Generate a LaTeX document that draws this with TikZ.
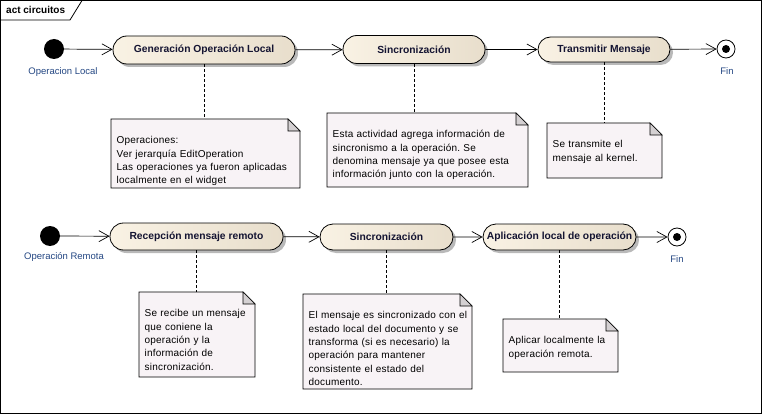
\documentclass[tikz,border=0pt]{standalone}
\usepackage{fontspec}
\setmainfont{Liberation Sans}
\usetikzlibrary{arrows.meta,shapes.misc,shadows,backgrounds}
\definecolor{actL}{RGB}{249,242,228}
\definecolor{actR}{RGB}{232,222,204}
\definecolor{acttext}{RGB}{20,20,50}
\definecolor{notefillc}{RGB}{248,243,246}
\definecolor{foldc}{RGB}{212,208,210}
\definecolor{shadowc}{RGB}{185,185,185}
\definecolor{labelc}{RGB}{35,70,130}
\newcommand{\notebg}[3]{%
  \begin{pgfonlayer}{background}
    \filldraw[fill=notefillc,line width=0.8pt] (#1.north west) -- ++(#2-12,0) -- ++(12,12) -- ++(0,#3-12) -- ++(-#2,0) -- cycle;
    \filldraw[fill=foldc,line width=0.6pt] (#1.north west) ++(#2-12,0) -- ++(0,12) -- ++(12,0) -- cycle;
  \end{pgfonlayer}}
\newcommand{\fl}{\rule{0pt}{10pt}}
\begin{document}
\frenchspacing
\begin{tikzpicture}[x=1pt,y=-1pt,
  action/.style={rounded rectangle, draw, line width=0.8pt, left color=actL, right color=actR,
    font=\bfseries\fontsize{10.3}{12}\selectfont, text=acttext, inner sep=0pt,
    drop shadow={shadow xshift=3pt,shadow yshift=-3pt,fill=shadowc,opacity=1}},
  flow/.style={line width=0.7pt, -{Straight Barb[length=10pt,width=11pt]}},
  anchorline/.style={line width=0.7pt, dash pattern=on 3pt off 2pt},
  initnode/.style={circle, fill=black, minimum size=20pt, inner sep=0pt},
  finalnode/.style={circle, draw, line width=0.8pt, fill=white, minimum size=18pt, inner sep=0pt,
    path picture={\fill[black] (path picture bounding box.center) circle (4pt);}},
  lbl/.style={font=\fontsize{9.5}{11}\selectfont, text=labelc, inner sep=0pt},
  notebox/.style={anchor=north west, inner xsep=5.5pt, inner ysep=14.5pt, align=left,
    font=\fontsize{10}{13.4}\selectfont\addfontfeature{LetterSpace=2}}
]
\useasboundingbox (0,0) rectangle (762,414);
\draw[line width=0.8pt] (0.5,0.5) rectangle (761,413.5);
\draw[line width=0.8pt] (0.5,20) -- (70,20) -- (82,0.5);
\node[anchor=west, font=\bfseries\fontsize{10}{12}\selectfont, inner sep=0pt] (title) at (6,10) {act circuitos};

% Row 1
\node[initnode] (I1) at (54,49) {};
\node[lbl] (L1) at (63,72) {Operacion Local};
\node[action, minimum width=182pt, minimum height=28pt] (A1) at (204,50) {Generación Operación Local};
\node[action, minimum width=142pt, minimum height=28pt] (A2) at (414,49.5) {Sincronización};
\node[action, minimum width=132pt, minimum height=25pt] (A3) at (604,49.5) {Transmitir Mensaje};
\node[finalnode] (F1) at (726,49) {};
\node[lbl] (LF1) at (727,71) {Fin};

\draw[flow] (I1) -- (A1);
\draw[flow] (A1) -- (A2);
\draw[flow] (A2) -- (A3);
\draw[flow] (A3) -- (F1);

\node[notebox, text width=185pt] (N1) at (111,119) {\fl Operaciones:\\Ver jerarquía EditOperation\\Las operaciones ya fueron aplicadas\\localmente en el widget};
\node[notebox, text width=195pt] (N2) at (327,113) {\fl Esta actividad agrega información de\\sincronismo a la operación. Se\\denomina mensaje ya que posee esta\\información junto con la operación.};
\node[notebox, text width=110pt] (N3) at (547,123) {\fl Se transmite el\\mensaje al kernel.};
\notebg{N1}{189}{69}\notebg{N2}{201}{74}\notebg{N3}{115}{55}
\draw[anchorline] (A1.south) -- (A1.south |- N1.north);
\draw[anchorline] (A2.south) -- (A2.south |- N2.north);
\draw[anchorline] (A3.south) -- (A3.south |- N3.north);

% Row 2
\node[initnode] (I2) at (50,236) {};
\node[lbl] (L2) at (64,257) {Operación Remota};
\node[action, minimum width=173pt, minimum height=27pt] (B1) at (196.5,236.5) {Recepción mensaje remoto};
\node[action, minimum width=133pt, minimum height=26pt] (B2) at (386.5,237) {Sincronización};
\node[action, minimum width=153pt, minimum height=26pt] (B3) at (559.5,237) {Aplicación local de operación};
\node[finalnode] (F2) at (677,237) {};
\node[lbl] (LF2) at (677,259) {Fin};

\draw[flow] (I2) -- (B1);
\draw[flow] (B1) -- (B2);
\draw[flow] (B2) -- (B3);
\draw[flow] (B3) -- (F2);

\node[notebox, text width=115pt] (N4) at (139,292) {\fl Se recibe un mensaje\\que coniene la\\operación y la\\información de\\sincronización.};
\node[notebox, text width=168pt] (N5) at (303,294) {\fl El mensaje es sincronizado con el\\estado local del documento y se\\transforma (si es necesario) la\\operación para mantener\\consistente el estado del\\documento.};
\node[notebox, text width=112pt] (N6) at (503,319) {\fl Aplicar localmente la\\operación remota.};
\notebg{N4}{116}{85}\notebg{N5}{169}{95}\notebg{N6}{115}{53}
\draw[anchorline] (B1.south) -- (B1.south |- N4.north);
\draw[anchorline] (B2.south) -- (B2.south |- N5.north);
\draw[anchorline] (B3.south) -- (B3.south |- N6.north);
\end{tikzpicture}
\end{document}
